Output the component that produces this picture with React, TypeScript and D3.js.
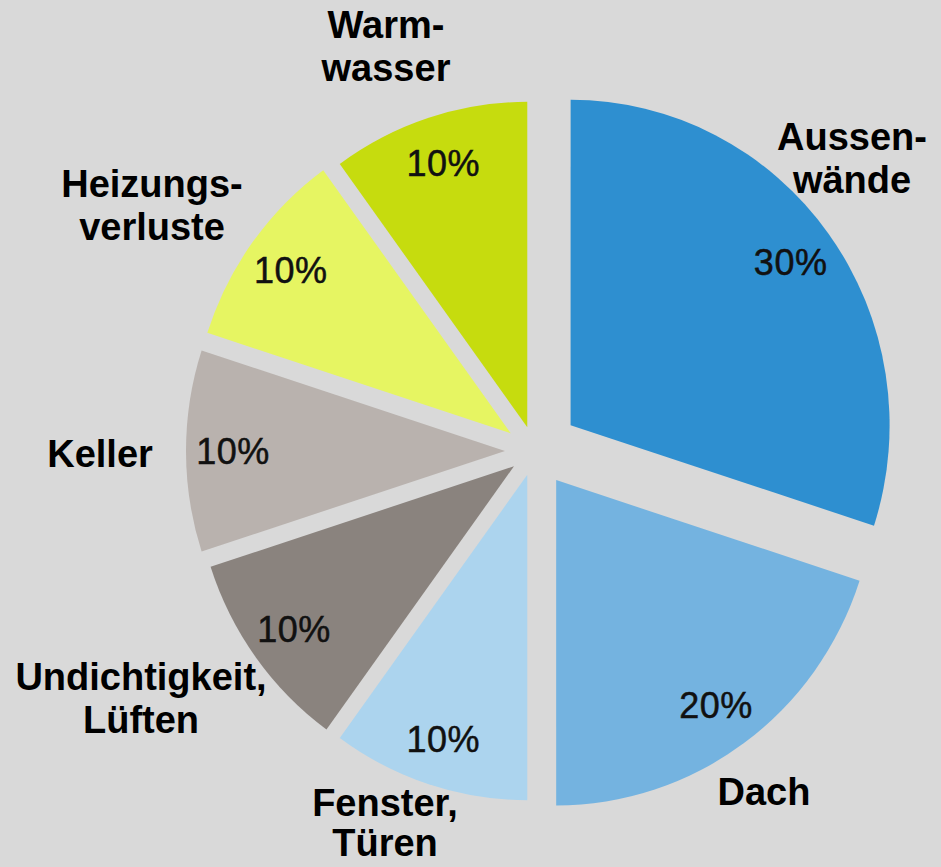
import React from "react";
import * as d3 from "d3";

const categories = ["Aussen-\nwände", "Dach", "Fenster,\nTüren", "Undichtigkeit,\nLüften", "Keller", "Heizungs-\nverluste", "Warm-\nwasser"];
const values = [30, 20, 10, 10, 10, 10, 10];
const percentLabels = ["30%", "20%", "10%", "10%", "10%", "10%", "10%"];

const colors = ["#2e8fd0", "#74b3e0", "#acd4ee", "#8a837e", "#b9b2ae", "#e6f562", "#c6dc0e"];
const explode = [44, 36, 25, 26, 30, 30, 25];
// label anchor layout: [centerX, firstBaselineY, lineHeight]
const nameLayout: [number, number, number][] = [
  [852, 150, 43],
  [764, 805, 43],
  [385, 816, 40],
  [141, 690, 43],
  [100, 467, 43],
  [152, 197, 43],
  [386, 38, 43],
];

const W = 941;
const H = 867;
const CX = 535;
const CY = 451;
const R = 319;
const SY = 1.02;
const LABEL_R = 272;

export default function App() {
  const pie = d3.pie<number>().sort(null).value((d) => d)(values);
  const arc = d3.arc<d3.PieArcDatum<number>>().innerRadius(0).outerRadius(R);

  return (
    <svg width={W} height={H} style={{ position: "absolute", left: 0, top: 0, background: "#d9d9d9" }}
      fontFamily="'Liberation Sans', Arial, sans-serif">
      <rect x={0} y={0} width={W} height={H} fill="#d9d9d9" />
      <g transform={`translate(${CX},${CY})`}>
        {pie.map((p, i) => {
          const mid = (p.startAngle + p.endAngle) / 2;
          const ox = explode[i] * Math.sin(mid);
          const oy = -explode[i] * Math.cos(mid);
          const lx = ox + LABEL_R * Math.sin(mid);
          const ly = oy - LABEL_R * SY * Math.cos(mid);
          return (
            <g key={i}>
              <path d={arc(p) || ""} fill={colors[i]} transform={`translate(${ox},${oy}) scale(1,${SY})`} />
              <text x={lx} y={ly} dy="0.36em" textAnchor="middle" fontSize={36} fill="#111"
                stroke="#111" strokeWidth={0.5} letterSpacing={0.5}>
                {percentLabels[i]}
              </text>
            </g>
          );
        })}
      </g>
      {categories.map((c, i) => (
        <text key={i} textAnchor="middle" fontSize={38} fontWeight="bold" fill="#000">
          {c.split("\n").map((line, j) => (
            <tspan key={j} x={nameLayout[i][0]} y={nameLayout[i][1] + j * nameLayout[i][2]}>
              {line}
            </tspan>
          ))}
        </text>
      ))}
    </svg>
  );
}
